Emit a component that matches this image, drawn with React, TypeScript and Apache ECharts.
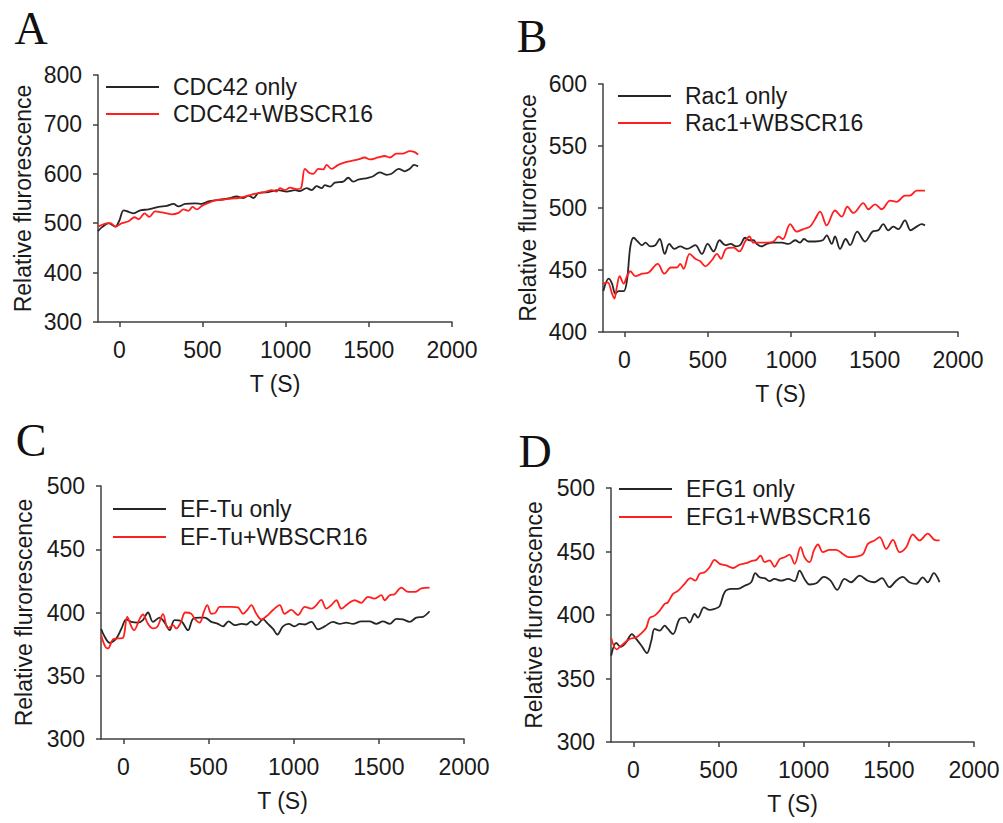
import React, { useEffect, useRef } from "react";
import * as echarts from "echarts";

const xTicks = [0, 500, 1000, 1500, 2000];

const aBlack = [[-128,484],[-104,492],[-64,500],[-24,493],[0,505],[26,526],[56,523],[86,520],[126,526],[176,528],[236,533],[286,535],[326,539],[356,534],[396,539],[456,540],[496,539],[536,544],[596,547],[656,550],[706,554],[746,551],[776,556],[806,551],[836,561],[896,563],[956,567],[1006,564],[1056,567],[1086,565],[1126,571],[1156,567],[1186,575],[1216,571],[1236,577],[1266,574],[1296,582],[1346,584],[1376,592],[1406,584],[1436,588],[1496,592],[1526,595],[1566,603],[1606,598],[1636,600],[1680,610],[1716,605],[1746,610],[1772,618],[1796,615]];
const aRed = [[-128,493],[-84,499],[-54,500],[-24,493],[16,500],[56,504],[92,512],[116,508],[152,520],[180,513],[216,524],[256,522],[316,518],[356,521],[386,528],[416,525],[440,533],[466,528],[496,535],[536,541],[576,546],[626,548],[676,550],[716,551],[756,554],[796,558],[836,561],[876,563],[916,567],[946,564],[966,571],[996,567],[1026,572],[1066,569],[1092,571],[1116,610],[1146,601],[1166,600],[1196,610],[1226,609],[1246,618],[1276,610],[1316,618],[1356,623],[1396,626],[1436,629],[1476,633],[1506,629],[1556,633],[1596,636],[1626,633],[1666,641],[1706,641],[1746,646],[1776,644],[1796,639]];

const bBlack = [[-126,433],[-94,443],[-74,439],[-54,431],[-34,433],[-4,433],[16,442],[36,469],[56,476],[80,473],[106,470],[126,472],[156,469],[186,470],[212,475],[242,463],[269,471],[299,467],[335,469],[375,467],[425,470],[465,463],[499,471],[535,465],[571,474],[605,470],[638,471],[670,469],[694,470],[724,476],[748,474],[774,474],[794,471],[820,469],[854,471],[894,472],[944,472],[984,471],[1024,474],[1053,472],[1077,475],[1103,473],[1143,473],[1189,474],[1213,478],[1243,471],[1263,477],[1293,467],[1327,475],[1353,470],[1396,481],[1442,473],[1488,481],[1522,482],[1552,487],[1582,482],[1612,485],[1642,483],[1682,490],[1716,482],[1752,485],[1782,487],[1802,486]];
const bRed = [[-126,439],[-100,440],[-74,431],[-60,427],[-44,437],[-28,445],[-4,439],[16,445],[36,449],[66,445],[106,447],[146,448],[200,455],[240,447],[279,452],[315,452],[335,455],[355,451],[391,463],[425,459],[455,457],[485,453],[525,458],[555,463],[579,459],[610,467],[654,468],[690,465],[724,473],[750,477],[774,472],[814,472],[854,472],[894,473],[924,477],[950,475],[994,487],[1033,481],[1073,483],[1113,485],[1143,491],[1173,497],[1213,486],[1263,498],[1303,493],[1337,501],[1373,496],[1433,504],[1463,499],[1503,503],[1543,499],[1593,506],[1633,505],[1682,510],[1712,510],[1752,514],[1802,514]];

const cBlack = [[-130,387],[-110,381],[-80,376],[-41,379.5],[-12,387],[18,394.5],[47,392.6],[86,392],[115,394],[145,400],[174,392.6],[213,396],[243,392],[272,386],[301,394],[341,393],[380,386],[409,395],[448,396],[477,396],[517,392.6],[556,391],[585,389],[618,393],[654,390],[693,391],[722,390.5],[751,393],[781,390],[820,394.5],[849,391],[879,387],[904,382.6],[937,389],[971,391],[1006,389],[1035,391],[1065,390.5],[1104,392.6],[1143,386.6],[1182,389],[1231,392.6],[1270,391],[1309,392],[1348,391],[1397,393],[1446,393],[1485,391],[1524,393],[1564,391],[1603,395],[1642,394.5],[1681,392.6],[1720,396],[1759,396.6],[1798,401]];
const cRed = [[-130,382],[-106,373],[-90,371.6],[-61,378.7],[-31,379.5],[-2,380],[23,396.6],[47,389],[63,386],[96,395],[115,398.4],[145,391],[174,387.4],[200,388.7],[233,398.7],[262,387.4],[292,390],[311,387.4],[337,392],[364,400],[399,399],[419,395],[448,392],[474,401],[493,405.8],[517,399],[540,399.7],[566,404.5],[595,404.5],[634,404.5],[673,404],[703,399],[728,402],[751,405.8],[781,399],[810,394.5],[840,397],[879,402],[918,405.8],[947,399],[986,402],[1025,398],[1065,404.5],[1104,403],[1133,405.8],[1162,410],[1192,403],[1221,405.8],[1251,409.7],[1280,403],[1319,407],[1358,409.7],[1397,407.6],[1436,412.4],[1475,411],[1515,413.7],[1534,409.7],[1564,413.7],[1593,414.5],[1632,419.7],[1672,416.3],[1711,416.3],[1750,419],[1798,419.7]];

const dBlack = [[-130,368],[-100,378],[-75,375],[-45,378],[-8,385],[18,381],[47,376],[80,370],[106,380],[125,389],[155,387.7],[184,391.6],[203,389],[233,385],[272,397],[305,398],[330,394],[360,400.8],[379,398],[415,406],[448,404],[477,404.8],[507,407],[536,418],[575,420.5],[614,420.5],[653,423],[692,425.8],[716,433],[741,429.7],[771,429],[800,426.6],[829,428.4],[868,427],[908,428.4],[947,426.6],[976,435],[1005,428.4],[1035,424],[1074,425],[1119,430],[1158,427],[1197,419.8],[1240,428.4],[1279,425.8],[1328,431],[1377,427],[1416,425.8],[1459,429],[1504,421.9],[1543,427],[1582,430],[1621,425.8],[1660,424.5],[1699,429.7],[1729,425.8],[1764,433],[1798,425.8]];
const dRed = [[-130,382],[-98,373],[-61,377],[-22,381],[18,382.4],[47,385.6],[76,390],[96,397.7],[125,399.5],[155,403.5],[184,408.7],[203,410],[233,416.6],[262,419],[301,424.5],[336,429],[364,427],[389,432.4],[419,433.7],[448,437.6],[477,443.4],[507,440.3],[546,439],[585,437],[624,439.7],[663,440.8],[692,442.4],[722,443.4],[747,446.8],[771,441.6],[800,443],[829,438],[859,444],[888,445.5],[917,447.6],[947,440.3],[982,453.4],[1005,445.5],[1035,441.6],[1060,450.8],[1084,455.5],[1113,449.5],[1152,451.3],[1191,451.3],[1230,448],[1264,445.5],[1309,446],[1348,448],[1377,456],[1416,458.7],[1446,461.3],[1485,452],[1524,459.2],[1563,449.5],[1602,453.4],[1641,463.4],[1680,458.7],[1729,464],[1768,459.2],[1798,458.7]];

const panelLetters = ["A", "B", "C", "D"];
const blackNames = ["CDC42 only", "Rac1 only", "EF-Tu only", "EFG1 only"];
const redNames = ["CDC42+WBSCR16", "Rac1+WBSCR16", "EF-Tu+WBSCR16", "EFG1+WBSCR16"];
const yMins = [300, 400, 300, 300];
const yMaxs = [800, 600, 500, 500];
const yIntervals = [100, 50, 50, 50];
const xMins = [-128, -128, -131, -131];

const FONT = "'Liberation Sans', Arial, sans-serif";
const TEXT = "#1a1a1a";
const AXIS = "#404040";
const BLACK = "#262626";
const RED = "#ff1f1f";

const grids = [
  { left: 98, top: 75, width: 354, height: 247 },
  { left: 603, top: 84, width: 355, height: 248 },
  { left: 101, top: 486, width: 363, height: 253 },
  { left: 611, top: 488, width: 363, height: 254 },
];
const legendPos = [
  { left: 106, top: 75.5, gap: 4 },
  { left: 618, top: 84.5, gap: 4 },
  { left: 113, top: 497.5, gap: 5 },
  { left: 619, top: 477.5, gap: 5 },
];
const letterPos = [
  [31, 28],
  [532, 36],
  [31, 440],
  [535, 451],
];
const yNameGaps = [64, 64, 66, 66];

export default function App() {
  const ref = useRef<HTMLDivElement>(null);
  useEffect(() => {
    document.body.style.margin = "0";
    if (!ref.current) return;
    const chart = echarts.init(ref.current, undefined, { renderer: "svg" });
    const blacks = [aBlack, bBlack, cBlack, dBlack];
    const reds = [aRed, bRed, cRed, dRed];
    const lineAxis = { show: true, onZero: false, lineStyle: { color: AXIS, width: 1.5 } };
    const option: any = {
      animation: false,
      backgroundColor: "#ffffff",
      grid: grids.map((g) => ({ ...g, containLabel: false })),
      xAxis: grids.map((_, i) => ({
        gridIndex: i,
        type: "value",
        min: xMins[i],
        max: 2000,
        name: "T (S)",
        nameLocation: "middle",
        nameGap: 50,
        nameTextStyle: { fontSize: 23, color: TEXT, fontFamily: FONT },
        axisLine: lineAxis,
        axisTick: { show: true, inside: false, length: 5, customValues: xTicks, lineStyle: { color: AXIS, width: 1.5 } },
        axisLabel: {
          customValues: xTicks,
          formatter: (v: number) => String(v),
          margin: 16,
          fontSize: 23,
          color: TEXT,
          fontFamily: FONT,
        },
        splitLine: { show: false },
      })),
      yAxis: grids.map((_, i) => ({
        gridIndex: i,
        type: "value",
        min: yMins[i],
        max: yMaxs[i],
        interval: yIntervals[i],
        name: "Relative flurorescence",
        nameLocation: "middle",
        nameGap: yNameGaps[i],
        nameTextStyle: { fontSize: 23, color: TEXT, fontFamily: FONT },
        axisLine: lineAxis,
        axisTick: { show: true, inside: false, length: 5, lineStyle: { color: AXIS, width: 1.5 } },
        axisLabel: { margin: 16, fontSize: 23, color: TEXT, fontFamily: FONT, formatter: (v: number) => String(v) },
        splitLine: { show: false },
      })),
      legend: grids.map((_, i) => ({
        data: [blackNames[i], redNames[i]],
        orient: "vertical",
        left: legendPos[i].left,
        top: legendPos[i].top,
        icon: "rect",
        itemWidth: 53,
        itemHeight: 1.8,
        itemGap: legendPos[i].gap,
        padding: 0,
        textStyle: { fontSize: 23, lineHeight: 23, color: TEXT, fontFamily: FONT, padding: [0, 0, 0, 9] },
      })),
      series: grids.flatMap((_, i) => [
        {
          type: "line",
          name: blackNames[i],
          xAxisIndex: i,
          yAxisIndex: i,
          data: blacks[i],
          symbol: "none",
          smooth: 0.35,
          lineStyle: { color: BLACK, width: 1.8 },
          itemStyle: { color: BLACK },
        },
        {
          type: "line",
          name: redNames[i],
          xAxisIndex: i,
          yAxisIndex: i,
          data: reds[i],
          symbol: "none",
          smooth: 0.35,
          lineStyle: { color: RED, width: 1.8 },
          itemStyle: { color: RED },
        },
      ]),
      graphic: panelLetters.map((t, i) => ({
        type: "text",
        x: letterPos[i][0],
        y: letterPos[i][1],
        style: {
          text: t,
          fontSize: 46,
          fontFamily: "'Liberation Serif', 'Times New Roman', serif",
          fill: "#111111",
          align: "center",
          verticalAlign: "middle",
        },
      })),
    };
    chart.setOption(option);
    return () => chart.dispose();
  }, []);
  return <div ref={ref} style={{ width: 1003, height: 823 }} />;
}
